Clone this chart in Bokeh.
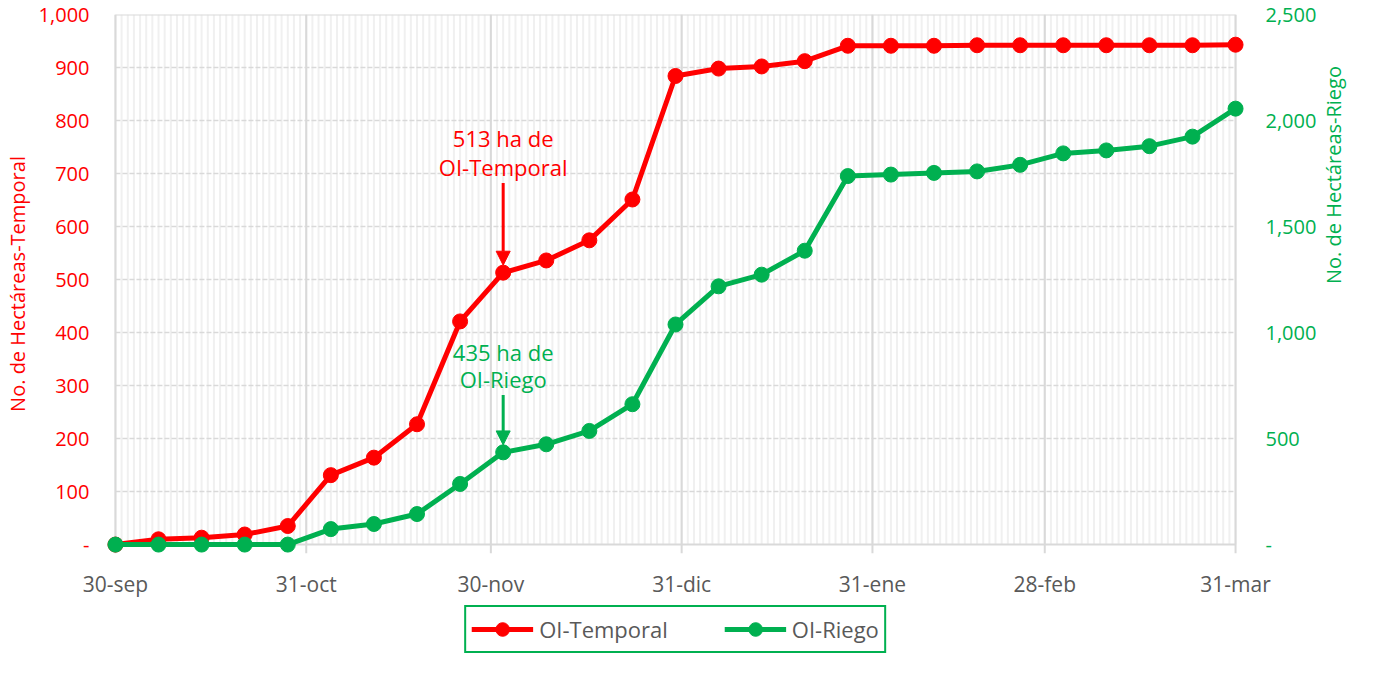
import math
import pandas as pd
from bokeh.plotting import figure
from bokeh.layouts import column
from bokeh.models import (Range1d, LinearAxis, FixedTicker, CustomJSTickFormatter,
                          Legend, LegendItem, Label, Arrow, NormalHead, ColumnDataSource)
from bokeh.embed import file_html
from bokeh.resources import INLINE

# ---------------- data ----------------
dates = ["2018-09-30", "2018-10-07", "2018-10-14", "2018-10-21", "2018-10-28",
         "2018-11-04", "2018-11-11", "2018-11-18", "2018-11-25", "2018-12-02",
         "2018-12-09", "2018-12-16", "2018-12-23", "2018-12-30", "2019-01-06",
         "2019-01-13", "2019-01-20", "2019-01-27", "2019-02-03", "2019-02-10",
         "2019-02-17", "2019-02-24", "2019-03-03", "2019-03-10", "2019-03-17",
         "2019-03-24", "2019-03-31"]
temporal = [0, 10, 13, 19, 35, 131, 164, 227, 421, 513, 536, 574, 651, 884, 898,
            902, 912, 941, 941, 941, 942, 942, 942, 942, 942, 942, 943]
riego = [0, 0, 0, 0, 0, 73, 97, 144, 286, 435, 473, 536, 662, 1038, 1218,
         1273, 1386, 1738, 1745, 1753, 1760, 1791, 1845, 1859, 1879, 1924, 2056]
month_ticks = ["2018-09-30", "2018-10-31", "2018-11-30", "2018-12-31",
               "2019-01-31", "2019-02-28", "2019-03-31"]
left_ticks = [0, 100, 200, 300, 400, 500, 600, 700, 800, 900, 1000]
right_ticks = [0, 500, 1000, 1500, 2000, 2500]
series_names = ["OI-Temporal", "OI-Riego"]
axis_titles = ["No. de Hectáreas-Temporal", "No. de Hectáreas-Riego"]
ann_temporal = ["513 ha de", "OI-Temporal"]
ann_riego = ["435 ha de", "OI-Riego"]
ann_index = 9

# ---------------- style ----------------
RED = "#FF0000"
GREEN = "#00B050"
GRAY_TXT = "#595959"
GRID = "#d9d9d9"
MINOR = "#f0f0f0"
FONT = "Open Sans"

FIG_W = 1371
MAIN_H, LEG_H = 600, 57
BORDER_L, BORDER_T, BORDER_R = 99, 14, 126
FRAME_W = FIG_W - BORDER_L - BORDER_R
PLOT_H = 535            # pixels for 0..1000 on the left axis
PAD_X_PX, PAD_Y_PX = 10, 9
FRAME_H = PLOT_H + PAD_Y_PX
BORDER_B = MAIN_H - BORDER_T - FRAME_H
DAY = 86400000.0

x = pd.to_datetime(dates)
ms = [t.value / 1e6 for t in x]
start, end = ms[0], ms[-1]
span_days = (end - start) / DAY
pad_days = PAD_X_PX * span_days / (FRAME_W - 2 * PAD_X_PX)
ymax_l, ymax_r = left_ticks[-1], right_ticks[-1]
unit_l = PLOT_H / ymax_l
pad_l = PAD_Y_PX / unit_l
pad_r = pad_l * ymax_r / ymax_l

p = figure(x_axis_type="datetime", width=FIG_W, height=MAIN_H,
           x_range=Range1d(start - pad_days * DAY, end + pad_days * DAY),
           y_range=Range1d(-pad_l, ymax_l),
           output_backend="svg", toolbar_location=None,
           min_border_left=BORDER_L, min_border_right=BORDER_R,
           min_border_top=BORDER_T, min_border_bottom=BORDER_B,
           background_fill_color="white", border_fill_color="white")
p.outline_line_color = None
p.xgrid.grid_line_color = None
p.ygrid.grid_line_color = None
p.extra_y_ranges = {"riego": Range1d(-pad_r, ymax_r)}

# daily minor grid
day_ms = [d.value / 1e6 for d in pd.date_range(x[0], x[-1], freq="D")]
p.segment(x0=day_ms, y0=[0] * len(day_ms), x1=day_ms, y1=[ymax_l] * len(day_ms),
          line_color=MINOR, line_width=2, level="underlay")
# horizontal dashed grid
inner = left_ticks[1:-1]
p.segment(x0=[start] * len(inner), y0=inner, x1=[end] * len(inner), y1=inner,
          line_color=GRID, line_width=1.5, line_dash="5 2", level="underlay")
# top & bottom borders
p.segment(x0=[start, start], y0=[0, ymax_l], x1=[end, end], y1=[0, ymax_l],
          line_color=GRID, line_width=2, level="underlay")
# month gridlines (extend below the axis as ticks)
mt_ms = [pd.Timestamp(d).value / 1e6 for d in month_ticks]
p.segment(x0=mt_ms, y0=[-pad_l] * len(mt_ms), x1=mt_ms, y1=[ymax_l] * len(mt_ms),
          line_color=GRID, line_width=2, level="underlay")

# data
src = ColumnDataSource(dict(x=x, t=temporal, r=riego))
p.line("x", "t", source=src, line_color=RED, line_width=5)
p.scatter("x", "t", source=src, size=15, fill_color=RED, line_color=RED)
p.line("x", "r", source=src, line_color=GREEN, line_width=5, y_range_name="riego")
p.scatter("x", "r", source=src, size=15, fill_color=GREEN, line_color=GREEN,
          y_range_name="riego")

fmt = CustomJSTickFormatter(code="return tick == 0 ? '-' : Number(tick).toLocaleString('en-US');")
date_fmt = CustomJSTickFormatter(code="""
const m=['ene','feb','mar','abr','may','jun','jul','ago','sep','oct','nov','dic'];
const d=new Date(tick); return d.getUTCDate()+'-'+m[d.getUTCMonth()];""")

# x axis
xa = p.xaxis[0]
xa.ticker = FixedTicker(ticks=mt_ms)
xa.formatter = date_fmt
xa.axis_line_color = None
xa.major_tick_line_color = None
xa.minor_tick_line_color = None
xa.major_label_text_font = FONT
xa.major_label_text_font_size = "21px"
xa.major_label_text_color = GRAY_TXT
xa.major_label_standoff = 10

# left axis
ya = p.yaxis[0]
ya.ticker = FixedTicker(ticks=left_ticks)
ya.formatter = fmt
ya.axis_line_color = None
ya.major_tick_line_color = None
ya.minor_tick_line_color = None
ya.major_label_text_font = FONT
ya.major_label_text_font_size = "20px"
ya.major_label_text_color = RED
ya.major_label_standoff = 10
ya.axis_label = axis_titles[0]
ya.axis_label_text_font = FONT
ya.axis_label_text_font_size = "20px"
ya.axis_label_text_font_style = "normal"
ya.axis_label_text_color = RED
ya.axis_label_standoff = 5

# right axis
ra = LinearAxis(y_range_name="riego", ticker=FixedTicker(ticks=right_ticks), formatter=fmt)
ra.axis_line_color = None
ra.major_tick_line_color = None
ra.minor_tick_line_color = None
ra.major_label_text_font = FONT
ra.major_label_text_font_size = "20px"
ra.major_label_text_color = GREEN
ra.major_label_standoff = 14
ra.axis_label = axis_titles[1]
ra.axis_label_text_font = FONT
ra.axis_label_text_font_size = "20px"
ra.axis_label_text_font_style = "normal"
ra.axis_label_text_color = GREEN
ra.axis_label_standoff = 14
if hasattr(ra, "axis_label_orientation"):
    ra.axis_label_orientation = math.pi / 2
p.add_layout(ra, "right")

# annotations
xa_ms = ms[ann_index]
for txt, yv in zip(ann_temporal, [767, 713]):
    p.add_layout(Label(x=xa_ms, y=yv, text=txt, text_align="center", text_baseline="middle",
                       text_color=RED, text_font=FONT, text_font_size="22px"))
p.add_layout(Arrow(end=NormalHead(size=14, fill_color=RED, line_color=RED),
                   x_start=xa_ms, y_start=682, x_end=xa_ms, y_end=temporal[ann_index] + 14,
                   line_color=RED, line_width=3))
for txt, yv in zip(ann_riego, [909, 782]):
    p.add_layout(Label(x=xa_ms, y=yv, y_range_name="riego", text=txt, text_align="center",
                       text_baseline="middle", text_color=GREEN, text_font=FONT,
                       text_font_size="22px"))
p.add_layout(Arrow(end=NormalHead(size=14, fill_color=GREEN, line_color=GREEN),
                   x_start=xa_ms, y_start=705, x_end=xa_ms, y_end=riego[ann_index] + 35,
                   y_range_name="riego", line_color=GREEN, line_width=3))

# ---------------- legend strip (separate figure under the chart) ----------------
# the series are re-drawn here outside the visible range only to feed the legend
LEG_L, LEG_CENTER = 99, 688
LEG_R = FIG_W - LEG_L - 2 * (LEG_CENTER - LEG_L)
q = figure(width=FIG_W, height=LEG_H, x_range=Range1d(-2, -1), y_range=Range1d(-2, -1),
           output_backend="svg", toolbar_location=None,
           x_axis_location=None, y_axis_location=None,
           min_border_left=LEG_L, min_border_right=LEG_R,
           min_border_top=0, min_border_bottom=0,
           background_fill_color="white", border_fill_color="white")
q.outline_line_color = None
q.grid.visible = False
l1 = q.line("x", "t", source=src, line_color=RED, line_width=5)
s1 = q.scatter("x", "t", source=src, size=15, fill_color=RED, line_color=RED)
l2 = q.line("x", "r", source=src, line_color=GREEN, line_width=5)
s2 = q.scatter("x", "r", source=src, size=15, fill_color=GREEN, line_color=GREEN)
legend = Legend(items=[LegendItem(label=series_names[0], renderers=[l1, s1]),
                       LegendItem(label=series_names[1], renderers=[l2, s2])],
                orientation="horizontal", location="center",
                border_line_color=GREEN, border_line_width=2, border_line_alpha=1.0,
                label_text_font=FONT, label_text_font_size="22px",
                label_text_color=GRAY_TXT, glyph_width=62, glyph_height=34,
                label_standoff=6, spacing=56, padding=5, margin=0,
                background_fill_color="white")
q.add_layout(legend, "center")

layout = column(p, q, spacing=0)
open("out.html", "w").write(file_html(layout, INLINE))
